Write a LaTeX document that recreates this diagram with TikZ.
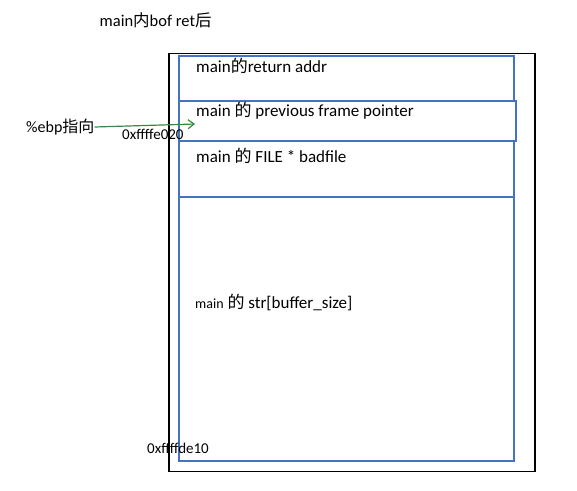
\documentclass[tikz,border=0pt]{standalone}
\usepackage{fontspec}
\setmainfont{Carlito}
\newfontfamily\cjk{Noto Sans CJK SC}
\usetikzlibrary{positioning, arrows.meta, calc}
\newcommand{\zh}[1]{{\cjk #1}}
\definecolor{boxblue}{RGB}{68,114,196}
\definecolor{ptrgreen}{RGB}{56,135,70}

\begin{document}
\begin{tikzpicture}[x=1pt, y=-1pt,
    cell/.style={draw=boxblue, line width=1.3pt, minimum width=335pt, inner sep=0pt, outer sep=0pt},
    lbl/.style={inner sep=0pt, font=\fontsize{17}{20}\selectfont, anchor=west},
    addr/.style={inner sep=0pt, font=\fontsize{15}{18}\selectfont, anchor=west}]
    \useasboundingbox (0,0) rectangle (577,490);

    \node[lbl, font=\fontsize{16.5}{19}\selectfont] (title) at (99.5,20) {main\zh{内}bof ret\zh{后}};

    \node[draw, line width=1.5pt, minimum width=366pt, minimum height=418pt,
          inner sep=0pt, anchor=north west] (frame) at (168,52.7) {};
    \node[cell, minimum height=45pt, anchor=north west] (ret) at (179,56) {};
    \node[cell, minimum height=40pt, minimum width=337pt, anchor=north west] (prev) at (ret.south west) {};
    \node[cell, minimum height=56pt, anchor=north west] (file) at (prev.south west) {};
    \node[cell, minimum height=264pt, anchor=north west] (str) at (file.south west) {};

    \node[lbl] (tret) at ($(ret.north west)+(17,10)$) {main\zh{的}return addr};
    \node[lbl] (tprev) at ($(prev.north west)+(17,10)$) {main \zh{的} previous frame pointer};
    \node[lbl] (tfile) at ($(file.north west)+(17,15)$) {main \zh{的} FILE * badfile};
    \node[lbl] (tstr) at ($(str.north west)+(16,105)$) {{\fontsize{14}{16}\selectfont main} \zh{的} str[buffer\_size]};

    \node[lbl, font=\fontsize{16}{19}\selectfont] (ebp) at (26,127) {\%ebp\zh{指向}};
    \coordinate (tip) at (195,124);
    \draw[ptrgreen, line width=1.2pt, -{Straight Barb[length=6pt, width=9pt]}] (ebp.east) -- (tip);
    \node[addr] (hi) at (122,134) {0xffffe020};
    \node[addr] (lo) at (147,448) {0xffffde10};
\end{tikzpicture}
\end{document}
